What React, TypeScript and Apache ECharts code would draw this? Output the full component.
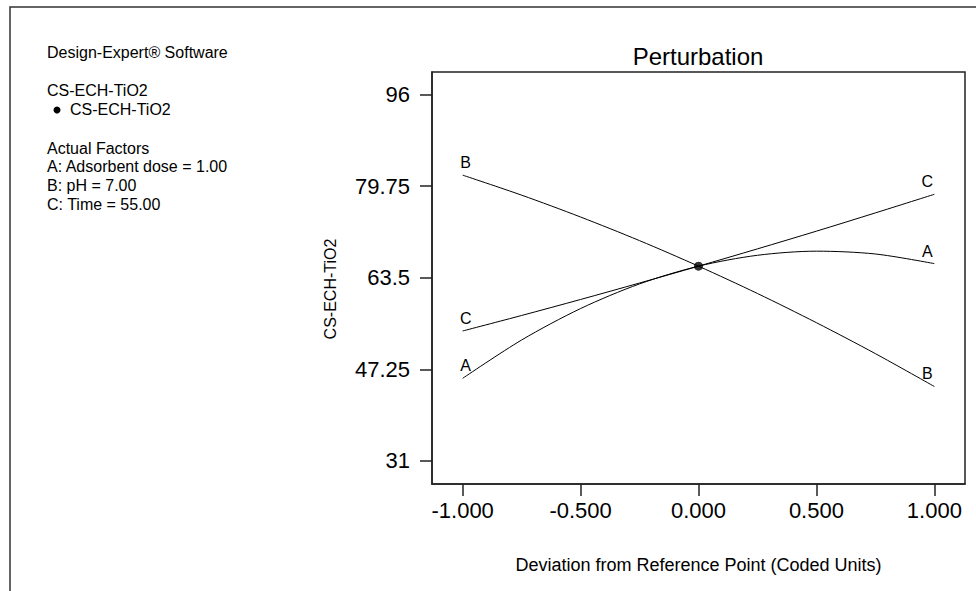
import React, { useEffect, useRef } from "react";
import * as echarts from "echarts";

const xValues = [-1, -0.75, -0.5, -0.25, 0, 0.25, 0.5, 0.75, 1];
const factorA = [45.65, 52.45, 58.03, 62.4, 65.55, 67.48, 68.21, 67.71, 66.0];
const factorB = [81.7, 78.15, 74.27, 70.08, 65.55, 60.7, 55.52, 50.03, 44.2];
const factorC = [54.05, 56.8, 59.64, 62.56, 65.55, 68.62, 71.76, 75.0, 78.3];
const factorNames = ["A", "B", "C"];
const yTicks = [31, 47.25, 63.5, 79.75, 96];
const xTicks = [-1, -0.5, 0, 0.5, 1];
const referencePoint = [0, 65.55];
const infoLines = [
  "Design-Expert® Software",
  "CS-ECH-TiO2",
  "CS-ECH-TiO2",
  "Actual Factors",
  "A: Adsorbent dose = 1.00",
  "B: pH = 7.00",
  "C: Time = 55.00",
];

const FONT = "'Liberation Sans', Arial, sans-serif";

export default function App() {
  const ref = useRef<HTMLDivElement>(null);
  useEffect(() => {
    if (!ref.current) return;
    const chart = echarts.init(ref.current, undefined, { renderer: "svg" });
    const seriesVals = [factorA, factorB, factorC];
    const lineSeries = seriesVals.map((vals, si) => ({
      type: "line",
      name: factorNames[si],
      smooth: 0.3,
      showSymbol: true,
      symbol: "circle",
      symbolSize: 1,
      itemStyle: { color: "rgba(0,0,0,0)" },
      lineStyle: { color: "#000", width: 1 },
      z: 3,
      data: xValues.map((x, i) => {
        const last = i === xValues.length - 1;
        const item: any = { value: [x, vals[i]] };
        if (i === 0 || last) {
          item.label = {
            show: true,
            formatter: factorNames[si],
            position: "top",
            distance: 4,
            offset: [i === 0 ? 3 : -7, 0],
            color: "#000",
            fontSize: 16,
            fontFamily: FONT,
          };
        }
        return item;
      }),
    }));

    const infoY = [52, 90, 109, 148, 166, 185, 204];
    const graphics: any[] = [
      {
        type: "polyline",
        shape: { points: [[10, 591], [10, 7], [976, 7]] },
        style: { stroke: "#333", lineWidth: 1.5, fill: null },
      },
      {
        type: "circle",
        shape: { cx: 57, cy: 110, r: 3.5 },
        style: { fill: "#000" },
      },
      {
        type: "text",
        x: 330,
        y: 289,
        rotation: Math.PI / 2,
        style: {
          text: "CS-ECH-TiO2",
          fontSize: 16,
          fontFamily: FONT,
          fill: "#000",
          align: "center",
          verticalAlign: "middle",
        },
      },
    ];
    infoLines.forEach((t, i) => {
      graphics.push({
        type: "text",
        x: i === 2 ? 70 : 47,
        y: infoY[i],
        style: {
          text: t,
          fontSize: 16,
          fontFamily: FONT,
          fill: "#000",
          align: "left",
          verticalAlign: "middle",
        },
      });
    });

    chart.setOption({
      animation: false,
      backgroundColor: "#fff",
      title: {
        text: "Perturbation",
        left: 698,
        top: 44,
        textAlign: "center",
        padding: 0,
        textStyle: { fontSize: 24, fontWeight: "normal", color: "#000", fontFamily: FONT },
      },
      grid: {
        left: 432,
        right: 11,
        top: 72,
        bottom: 107,
        show: true,
        borderColor: "#222",
        borderWidth: 1.5,
        backgroundColor: "transparent",
      },
      xAxis: {
        type: "value",
        min: -1.13,
        max: 1.13,
        name: "Deviation from Reference Point (Coded Units)",
        nameLocation: "middle",
        nameGap: 72,
        nameTextStyle: { fontSize: 18, color: "#000", fontFamily: FONT },
        axisLine: { show: true, onZero: false, lineStyle: { color: "#222", width: 1.5 } },
        axisTick: { show: true, customValues: xTicks, length: 12, lineStyle: { color: "#222", width: 1.5 } },
        axisLabel: {
          customValues: xTicks,
          formatter: (v: number) => v.toFixed(3),
          fontSize: 22,
          color: "#000",
          fontFamily: FONT,
          margin: 15,
        },
        splitLine: { show: false },
      },
      yAxis: {
        type: "value",
        min: 26.9,
        max: 100,
        axisLine: { show: true, onZero: false, lineStyle: { color: "#222", width: 1.5 } },
        axisTick: { show: true, customValues: yTicks, length: 12, lineStyle: { color: "#222", width: 1.5 } },
        axisLabel: {
          customValues: yTicks,
          formatter: (v: number) => String(v),
          fontSize: 22,
          color: "#000",
          fontFamily: FONT,
          margin: 22,
        },
        splitLine: { show: false },
      },
      series: [
        ...lineSeries,
        {
          type: "scatter",
          name: "Reference",
          symbol: "circle",
          symbolSize: 9,
          itemStyle: { color: "#000" },
          z: 5,
          data: [referencePoint],
        },
      ],
      graphic: graphics,
    });
    return () => chart.dispose();
  }, []);
  return (
    <div
      ref={ref}
      style={{ position: "absolute", left: 0, top: 0, width: 976, height: 591 }}
    />
  );
}
